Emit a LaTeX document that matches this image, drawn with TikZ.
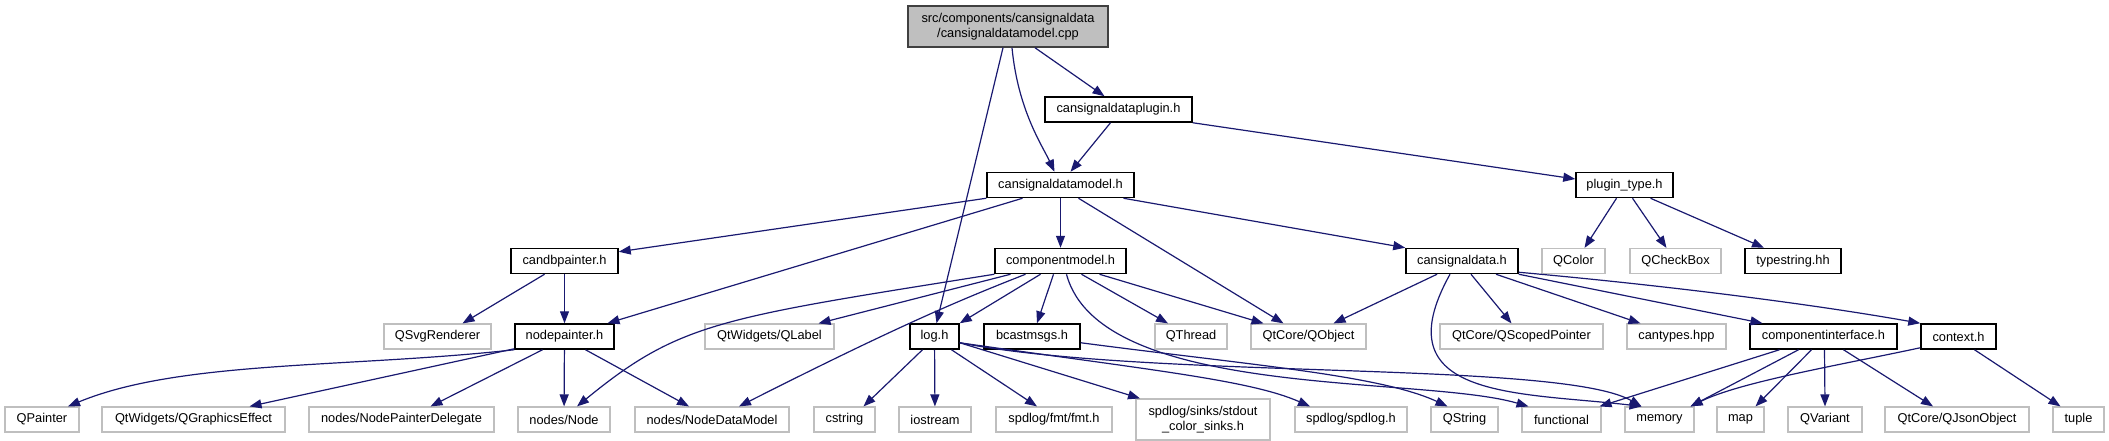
\documentclass[tikz,border=0pt]{standalone}
\usepackage{fontspec}
\setmainfont{Liberation Sans}
\usetikzlibrary{arrows.meta}
\definecolor{edgec}{HTML}{191970}
\definecolor{grayb}{HTML}{BFBFBF}
\definecolor{rootf}{HTML}{BFBFBF}
\definecolor{rootb}{HTML}{404040}
\begin{document}
\begin{tikzpicture}[x=1pt,y=-1pt,
 box/.style={rectangle, inner sep=0pt, font=\fontsize{12.8}{15}\selectfont, text=black},
 blk/.style={box, draw=black, line width=1.5pt, fill=white, minimum height=25pt},
 gry/.style={box, draw=grayb, line width=1.2pt, fill=white, minimum height=25pt},
 rootn/.style={box, draw=rootb, line width=1.5pt, fill=rootf, minimum height=41pt, align=center},
 edge/.style={draw=edgec, line width=1.2pt, -{Triangle[length=12pt,width=9pt]}}]
\useasboundingbox (0,0) rectangle (2109,440);
% row 0-2
\node[rootn, minimum width=200pt] (root) at (1008,26.5) {src/components/cansignaldata\\/cansignaldatamodel.cpp};
\node[blk, minimum width=147pt] (plugin) at (1118.5,109.5) {cansignaldataplugin.h};
\node[blk, minimum width=147pt] (model) at (1060.5,185) {cansignaldatamodel.h};
\node[blk, minimum width=97pt] (ptype) at (1624.5,185) {plugin\_type.h};
% row 3
\node[blk, minimum width=107pt] (candb) at (564.5,261) {candbpainter.h};
\node[blk, minimum width=131pt] (cmodel) at (1060.5,261) {componentmodel.h};
\node[blk, minimum width=112pt] (csd) at (1462,261) {cansignaldata.h};
\node[gry, minimum width=63pt] (qcolor) at (1573.5,261) {QColor};
\node[gry, minimum width=91pt] (qcheck) at (1675.5,261) {QCheckBox};
\node[blk, minimum width=96pt] (tstr) at (1793,261) {typestring.hh};
% row 4
\node[gry, minimum width=107pt] (qsvg) at (437.5,336.5) {QSvgRenderer};
\node[blk, minimum width=99pt] (npaint) at (564.5,336.5) {nodepainter.h};
\node[gry, minimum width=129pt] (qlabel) at (769.5,336.5) {QtWidgets/QLabel};
\node[blk, minimum width=49pt] (log) at (934.5,336.5) {log.h};
\node[blk, minimum width=96pt] (bcast) at (1032,336.5) {bcastmsgs.h};
\node[gry, minimum width=72pt] (qthread) at (1191,336.5) {QThread};
\node[gry, minimum width=115pt] (qobject) at (1308.5,336.5) {QtCore/QObject};
\node[gry, minimum width=163pt] (qscoped) at (1521.5,336.5) {QtCore/QScopedPointer};
\node[gry, minimum width=99pt] (cantypes) at (1676.5,336.5) {cantypes.hpp};
\node[blk, minimum width=147pt] (ciface) at (1823.5,336.5) {componentinterface.h};
\node[blk, minimum width=75pt] (context) at (1958.5,336.5) {context.h};
% row 5
\node[gry, minimum width=74pt] (qpainter) at (42,419.5) {QPainter};
\node[gry, minimum width=183pt] (qgfx) at (193.5,419.5) {QtWidgets/QGraphicsEffect};
\node[gry, minimum width=185pt] (npd) at (401.5,419.5) {nodes/NodePainterDelegate};
\node[gry, minimum width=92pt] (nnode) at (564,419.5) {nodes/Node};
\node[gry, minimum width=154pt] (ndm) at (712,419.5) {nodes/NodeDataModel};
\node[gry, minimum width=61pt] (cstring) at (844.5,419.5) {cstring};
\node[gry, minimum width=72pt] (iostream) at (935,419.5) {iostream};
\node[gry, minimum width=116pt] (fmt) at (1054,419.5) {spdlog/fmt/fmt.h};
\node[gry, minimum width=134pt, minimum height=41pt, align=center] (stdout) at (1203,419.5) {spdlog/sinks/stdout\\\_color\_sinks.h};
\node[gry, minimum width=112pt] (spdlog) at (1351,419.5) {spdlog/spdlog.h};
\node[gry, minimum width=67pt] (qstring) at (1464.5,419.5) {QString};
\node[gry, minimum width=79pt] (functional) at (1561.5,419.5) {functional};
\node[gry, minimum width=69pt] (memory) at (1659.5,419.5) {memory};
\node[gry, minimum width=47pt] (map) at (1740.5,419.5) {map};
\node[gry, minimum width=74pt] (qvariant) at (1825,419.5) {QVariant};
\node[gry, minimum width=144pt] (qjson) at (1957,419.5) {QtCore/QJsonObject};
\node[gry, minimum width=51pt] (tuple) at (2078.5,419.5) {tuple};
% edges
\draw[edge] ([xshift=27pt]root.south) -- ([xshift=-14pt]plugin.north);
\draw[edge] ([xshift=4pt]root.south) .. controls (1018,110) and (1042,145) .. ([xshift=-6pt]model.north);
\draw[edge] ([xshift=-5pt]root.south) -- ([xshift=2pt]log.north);
\draw[edge] ([xshift=-8pt]plugin.south) -- ([xshift=10pt]model.north);
\draw[edge] (plugin.south east) -- ([yshift=6pt]ptype.west);
\draw[edge] (model.south west) -- ([yshift=-4pt]candb.north east);
\draw[edge] ([xshift=-38pt]model.south) -- ([xshift=43pt]npaint.north);
\draw[edge] (model) -- (cmodel);
\draw[edge] ([xshift=18pt]model.south) -- ([xshift=-25pt]qobject.north);
\draw[edge] ([xshift=63pt]model.south) -- (csd.north west);
\draw[edge] ([xshift=-8pt]ptype.south) -- ([xshift=11pt]qcolor.north);
\draw[edge] ([xshift=8pt]ptype.south) -- ([xshift=-9pt]qcheck.north);
\draw[edge] ([xshift=26pt]ptype.south) -- ([xshift=-29pt]tstr.north);
\draw[edge] ([xshift=-20pt]candb.south) -- ([xshift=25pt]qsvg.north);
\draw[edge] (candb) -- (npaint);
\draw[edge] (npaint.south west) .. controls (350,368) and (180,360) .. ([xshift=26pt]qpainter.north);
\draw[edge] ([yshift=1pt]npaint.south west) -- ([xshift=56pt]qgfx.north);
\draw[edge] ([xshift=-22pt]npaint.south) -- ([xshift=29pt]npd.north);
\draw[edge] (npaint) -- (nnode);
\draw[edge] ([xshift=21pt]npaint.south) -- ([xshift=-23pt]ndm.north);
\draw[edge] (cmodel.south west) .. controls (720,318) and (680,322) .. ([xshift=13pt]nnode.north);
\draw[edge] ([xshift=-50pt]cmodel.south) -- ([xshift=49pt]qlabel.north);
\draw[edge] ([xshift=-35pt]cmodel.south) .. controls (960,300) and (900,325) .. ([xshift=27pt]ndm.north);
\draw[edge] ([xshift=-20pt]cmodel.south) -- (log.north east);
\draw[edge] ([xshift=-7pt]cmodel.south) -- ([xshift=5pt]bcast.north);
\draw[edge] ([xshift=21pt]cmodel.south) -- ([xshift=-23pt]qthread.north);
\draw[edge] ([xshift=39pt]cmodel.south) -- ([xshift=-45pt]qobject.north);
\draw[edge] ([xshift=6pt]cmodel.south) .. controls (1100,400) and (1420,375) .. ([xshift=-33pt]functional.north);
\draw[edge] ([xshift=-25pt]csd.south) -- ([xshift=25pt]qobject.north);
\draw[edge] ([xshift=-12pt]csd.south) .. controls (1380,400) and (1520,392) .. ([xshift=-18pt]memory.north);
\draw[edge] ([xshift=9pt]csd.south) -- ([xshift=-10pt]qscoped.north);
\draw[edge] ([xshift=34pt]csd.south) -- ([xshift=-36pt]cantypes.north);
\draw[edge] (csd.south east) -- ([xshift=-61pt]ciface.north);
\draw[edge] ([yshift=2pt]csd.south east) .. controls (1650,284) and (1800,302) .. (context.north west);
\draw[edge] ([xshift=-12pt]log.south) -- ([xshift=19pt]cstring.north);
\draw[edge] (log) -- (iostream);
\draw[edge] ([xshift=17pt]log.south) -- ([xshift=-17pt]fmt.north);
\draw[edge] ([yshift=7pt]log.south east) -- ([xshift=-63pt]stdout.north);
\draw[edge] ([yshift=7pt]log.south east) .. controls (1150,370) and (1250,380) .. ([xshift=-41pt]spdlog.north);
\draw[edge] ([yshift=7pt]log.south east) .. controls (1150,380) and (1560,360) .. ([xshift=-18pt]memory.north);
\draw[edge] ([yshift=7pt]bcast.south east) .. controls (1250,365) and (1380,375) .. ([xshift=-17pt]qstring.north);
\draw[edge] ([xshift=-44pt]ciface.south) -- ([xshift=38pt]functional.north);
\draw[edge] ([xshift=-25pt]ciface.south) -- ([xshift=31pt]memory.north);
\draw[edge] ([xshift=-12pt]ciface.south) -- ([xshift=15pt]map.north);
\draw[edge] ([xshift=1pt]ciface.south) -- (qvariant.north);
\draw[edge] ([xshift=20pt]ciface.south) -- ([xshift=-24pt]qjson.north);
\draw[edge] ([yshift=2pt]context.south west) .. controls (1840,365) and (1740,382) .. ([xshift=31pt]memory.north);
\draw[edge] ([xshift=16pt]context.south) -- ([xshift=-18pt]tuple.north);
\end{tikzpicture}
\end{document}
